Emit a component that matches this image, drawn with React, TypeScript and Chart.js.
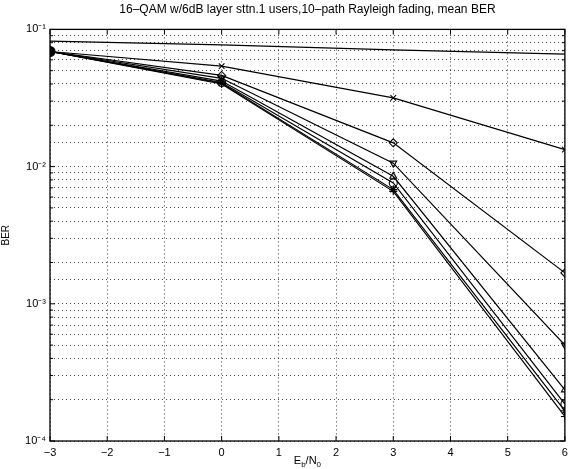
import React, { useEffect, useRef } from "react";
import { Chart, registerables } from "chart.js";

Chart.register(...registerables);

const titleText = "16\u2013QAM w/6dB layer sttn.1 users,10\u2013path Rayleigh fading, mean BER";
const xValues = [-3, 0, 3, 6];
const xTicks = [-3, -2, -1, 0, 1, 2, 3, 4, 5, 6];
const yTickLabels: Record<string, string> = {
  "0.1": "10\u207B\u00B9",
  "0.01": "10\u207B\u00B2",
  "0.001": "10\u207B\u00B3",
  "0.0001": "10\u207B\u2074",
};

const boundSeries = [0.082, 0.077, 0.071, 0.066];
const crossSeries = [0.069, 0.054, 0.0317, 0.0133];
const diamondSeries = [0.069, 0.0462, 0.0149, 0.00168];
const downTriSeries = [0.069, 0.044, 0.0106, 0.0005];
const upTriSeries = [0.069, 0.042, 0.0085, 0.000236];
const circleSeries = [0.069, 0.041, 0.0076, 0.000186];
const starSeries = [0.069, 0.0405, 0.0068, 0.000166];
const plusSeries = [0.069, 0.040, 0.0066, 0.000151];

const FONT = "'Liberation Sans', Arial, Helvetica, sans-serif";

function pts(vals: number[]) {
  return xValues.map((x, i) => ({ x, y: vals[i] }));
}

const frame = {
  id: "frame",
  afterDraw(chart: any) {
    const { ctx, chartArea } = chart;
    const { left, right, top, bottom } = chartArea;
    ctx.save();
    ctx.strokeStyle = "#000";
    ctx.lineWidth = 1.3;
    ctx.setLineDash([]);
    ctx.strokeRect(left, top, right - left, bottom - top);
    const xs = chart.scales.x;
    const ys = chart.scales.y;
    ctx.lineWidth = 1;
    for (const t of xTicks) {
      const px = xs.getPixelForValue(t);
      ctx.beginPath();
      ctx.moveTo(px, bottom);
      ctx.lineTo(px, bottom - 5);
      ctx.moveTo(px, top);
      ctx.lineTo(px, top + 5);
      ctx.stroke();
    }
    for (let d = -4; d <= -1; d++) {
      for (let m = 1; m <= 9; m++) {
        const v = m * Math.pow(10, d);
        if (v > 0.1 + 1e-12) continue;
        const py = ys.getPixelForValue(v);
        const len = m === 1 ? 5 : 3;
        ctx.beginPath();
        ctx.moveTo(left, py);
        ctx.lineTo(left + len, py);
        ctx.moveTo(right, py);
        ctx.lineTo(right - len, py);
        ctx.stroke();
      }
    }
    const cx = (left + right) / 2;
    const ty = bottom + 23;
    ctx.fillStyle = "#000";
    ctx.textBaseline = "alphabetic";
    ctx.textAlign = "left";
    const big = "11px " + FONT;
    const small = "8px " + FONT;
    const parts: [string, string, number][] = [
      ["E", big, 0],
      ["b", small, 3],
      ["/N", big, 0],
      ["0", small, 3],
    ];
    let total = 0;
    for (const [s, f] of parts) {
      ctx.font = f;
      total += ctx.measureText(s).width;
    }
    let x = cx - total / 2;
    for (const [s, f, dy] of parts) {
      ctx.font = f;
      ctx.fillText(s, x, ty + dy);
      x += ctx.measureText(s).width;
    }
    ctx.restore();
  },
};

export default function App() {
  const ref = useRef<HTMLCanvasElement | null>(null);
  useEffect(() => {
    if (!ref.current) return;
    const mk = (label: string, vals: number[], style: any, rot = 0, radius = 4, firstFilled = false) => ({
      label,
      data: pts(vals),
      borderColor: "#000",
      borderWidth: 1.2,
      pointStyle: style,
      pointRotation: rot,
      pointRadius: style === false ? 0 : vals.map((_, i) => (firstFilled && i === 0 ? 5 : radius)),
      pointBorderColor: "#000",
      pointBackgroundColor: vals.map((_, i) => (firstFilled && i === 0 ? "#000" : "rgba(255,255,255,0)")),
      pointBorderWidth: 1.1,
      tension: 0,
      fill: false,
    });
    const chart = new Chart(ref.current, {
      type: "line",
      data: {
        datasets: [
          mk("bound", boundSeries, false),
          mk("x", crossSeries, "crossRot"),
          mk("diamond", diamondSeries, "rectRot"),
          mk("down", downTriSeries, "triangle", 180),
          mk("up", upTriSeries, "triangle"),
          mk("circle", circleSeries, "circle", 0, 4, true),
          mk("star", starSeries, "star"),
          mk("plus", plusSeries, "cross"),
        ] as any,
      },
      plugins: [frame],
      options: {
        animation: false,
        responsive: false,
        devicePixelRatio: 1,
        layout: { padding: { left: 0, right: 3, top: 0, bottom: 0 } },
        plugins: {
          legend: { display: false },
          tooltip: { enabled: false },
          title: {
            display: true,
            text: titleText,
            fullSize: false,
            color: "#000",
            font: { family: FONT, size: 12, weight: "normal" },
            padding: { top: 2, bottom: 13 },
          },
        },
        scales: {
          x: {
            type: "linear",
            min: -3,
            max: 6,
            afterBuildTicks(scale: any) {
              scale.ticks = xTicks.map((v) => ({ value: v }));
            },
            afterFit(scale: any) {
              scale.height = 28;
              scale.paddingLeft = 0;
              scale.paddingRight = 0;
            },
            grid: { color: "rgba(0,0,0,0.75)", lineWidth: 1, drawTicks: false },
            border: { display: false, dash: [1, 3] },
            ticks: {
              color: "#000",
              font: { family: FONT, size: 11 },
              padding: 5,
              maxRotation: 0,
              autoSkip: false,
              callback: (v: any) => String(v).replace("-", "\u2212"),
            },
          },
          y: {
            type: "logarithmic",
            min: 0.0001,
            max: 0.1,
            afterFit(scale: any) {
              scale.width = 50;
              scale.paddingTop = 0;
              scale.paddingBottom = 0;
            },
            grid: { color: "rgba(0,0,0,0.75)", lineWidth: 1, drawTicks: false },
            border: { display: false, dash: [1, 3] },
            title: {
              display: true,
              text: "BER",
              color: "#000",
              font: { family: FONT, size: 10 },
              padding: 0,
            },
            ticks: {
              color: "#000",
              font: { family: FONT, size: 11 },
              padding: 4,
              autoSkip: false,
              callback: (v: any) => {
                const key = String(Number(v));
                return yTickLabels[key] ?? "";
              },
            },
          },
        },
      } as any,
    });
    return () => chart.destroy();
  }, []);
  return (
    <div style={{ position: "fixed", left: 0, top: 0, width: 571, height: 469, background: "#fff" }}>
      <canvas ref={ref} width={571} height={469} style={{ width: 571, height: 469 }} />
    </div>
  );
}
